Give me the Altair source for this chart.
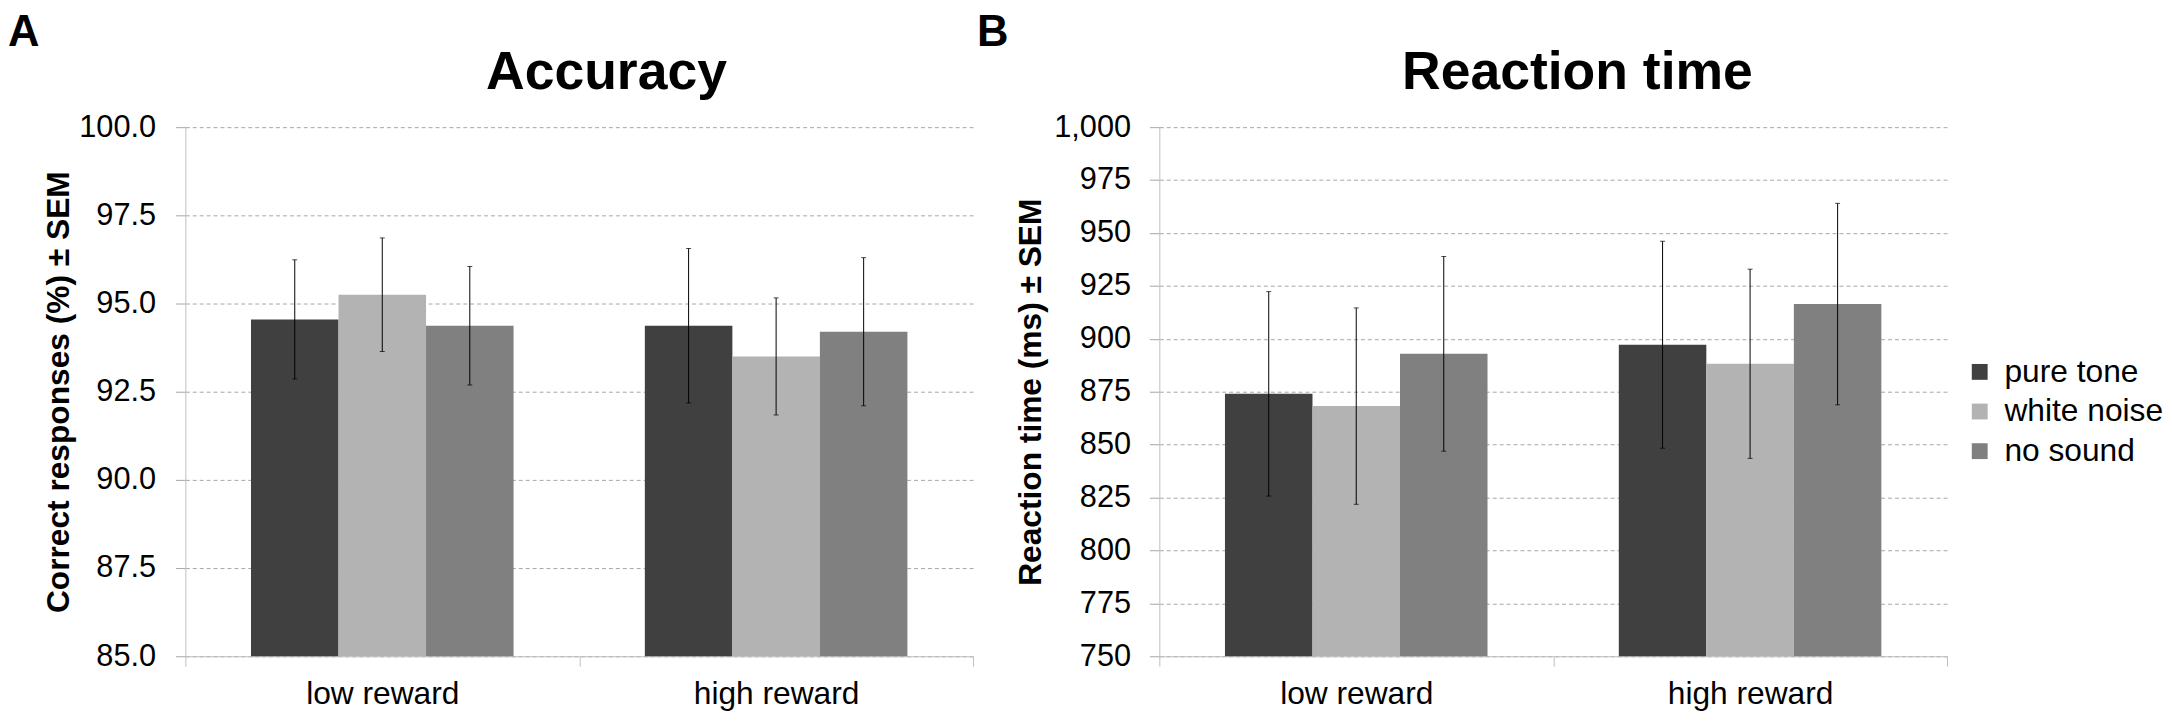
import altair as alt
import pandas as pd

rewards = ["low reward", "high reward"]
conditions = ["pure tone", "white noise", "no sound"]
colors = ["#404040", "#b3b3b3", "#808080"]

# Accuracy (%) means and SEM, order: low reward [pt, wn, ns], high reward [pt, wn, ns]
acc_mean = [94.55, 95.25, 94.37, 94.37, 93.50, 94.20]
acc_sem = [1.69, 1.61, 1.68, 2.19, 1.66, 2.10]

# Reaction time (ms) means and SEM
rt_mean = [874.0, 868.2, 892.9, 897.2, 888.2, 916.4]
rt_sem = [48.3, 46.4, 46.0, 48.9, 44.7, 47.6]

acc_ticks = [85.0, 87.5, 90.0, 92.5, 95.0, 97.5, 100.0]
rt_ticks = [750, 775, 800, 825, 850, 875, 900, 925, 950, 975, 1000]

FONT = "Liberation Sans"
W, H = 795, 534


def make_df(means, sems, base):
    rows = []
    i = 0
    for r in rewards:
        for c in conditions:
            rows.append({"reward": r, "cond": c, "value": means[i],
                         "base": base,
                         "lo": means[i] - sems[i], "hi": means[i] + sems[i]})
            i += 1
    return pd.DataFrame(rows)


def panel(df, domain, ticks, fmt, ytitle, title, letter, title_x, letter_x,
          label_pad, title_pad, legend):
    xaxis = alt.Axis(title=None, labelAngle=0, labelFont=FONT,
                     labelFontSize=32, labelColor="#000000",
                     labelPadding=13, ticks=True, tickSize=10,
                     tickColor="#bfbfbf", tickBand="extent",
                     domainColor="#bfbfbf", grid=False)
    xscale = alt.Scale(paddingInner=0, paddingOuter=0)
    xoff = alt.XOffset("cond:N", sort=conditions,
                       scale=alt.Scale(paddingInner=0, paddingOuter=0.75))
    yscale = alt.Scale(domain=domain, nice=False, zero=False)
    yaxis = alt.Axis(title=ytitle, values=ticks, format=fmt,
                     labelFont=FONT, labelFontSize=31,
                     labelColor="#000000", labelPadding=label_pad,
                     tickSize=10, tickColor="#a6a6a6",
                     domainColor="#bfbfbf", grid=True,
                     gridColor="#a6a6a6", gridDash=[4, 3],
                     titleFont=FONT, titleFontSize=32,
                     titleFontWeight="bold", titleColor="#000000",
                     titlePadding=title_pad)

    def X():
        return alt.X("reward:N", sort=rewards, scale=xscale, axis=xaxis)

    def Y(f):
        return alt.Y(f, scale=yscale, axis=yaxis, title=ytitle)

    bars = alt.Chart(df).mark_bar().encode(
        x=X(), xOffset=xoff,
        y=Y("value:Q"), y2="base:Q",
        color=alt.Color("cond:N", sort=conditions,
                        scale=alt.Scale(domain=conditions, range=colors),
                        legend=legend),
    )
    rules = alt.Chart(df).mark_rule(color="#000000", strokeWidth=1).encode(
        x=X(), xOffset=xoff,
        y=Y("lo:Q"), y2="hi:Q",
    )
    cap_hi = alt.Chart(df).mark_tick(color="#000000", thickness=1, size=5).encode(
        x=X(), xOffset=xoff, y=Y("hi:Q"),
    )
    cap_lo = alt.Chart(df).mark_tick(color="#000000", thickness=1, size=5).encode(
        x=X(), xOffset=xoff, y=Y("lo:Q"),
    )
    ttl = alt.Chart(pd.DataFrame({"t": [title]})).mark_text(
        font=FONT, fontSize=54, fontWeight="bold", color="#000000",
        align="center", baseline="alphabetic").encode(
        x=alt.value(title_x), y=alt.value(-39), text="t:N")
    let = alt.Chart(pd.DataFrame({"t": [letter]})).mark_text(
        font=FONT, fontSize=44, fontWeight="bold", color="#000000",
        align="left", baseline="alphabetic").encode(
        x=alt.value(letter_x), y=alt.value(-82), text="t:N")
    return alt.layer(bars, rules, cap_hi, cap_lo, ttl, let).properties(
        width=W, height=H)


acc_df = make_df(acc_mean, acc_sem, 85.0)
rt_df = make_df(rt_mean, rt_sem, 750.0)

left = panel(acc_df, [85, 100], acc_ticks, ".1f",
             "Correct responses (%) \u00b1 SEM", "Accuracy", "A",
             425, -179, 20, 3, None)

legend = alt.Legend(title=None, orient="none", legendX=812, legendY=231,
                    symbolType="square", symbolSize=256, symbolStrokeWidth=0,
                    labelFont=FONT, labelFontSize=32, labelColor="#000000",
                    labelLimit=0, rowPadding=8, labelOffset=9, padding=0)
right = panel(rt_df, [750, 1000], rt_ticks, ",d",
              "Reaction time (ms) \u00b1 SEM", "Reaction time", "B",
              422, -184, 19, 6, legend)

chart = alt.hconcat(left, right, spacing=3).resolve_scale(
    color="independent").properties(
    padding={"left": 0, "top": 0, "right": 0, "bottom": 0},
    background="white",
).configure_view(stroke=None)

chart.save("out.html", embed_options={"renderer": "svg", "actions": False})
